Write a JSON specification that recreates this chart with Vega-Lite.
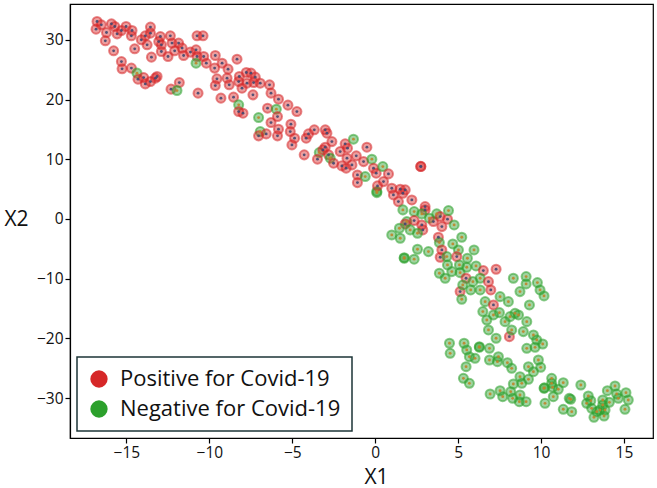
{
  "$schema": "https://vega.github.io/schema/vega-lite/v6.json",
  "width": 583,
  "height": 434,
  "autosize": {"type": "none"},
  "padding": {"left": 70, "top": 4, "right": 4, "bottom": 50},
  "background": "white",
  "config": {
    "font": "Open Sans",
    "view": {"stroke": "#000", "strokeWidth": 1.2},
    "axis": {"grid": false, "domainColor": "#000", "domainWidth": 1.2, "tickColor": "#000", "tickWidth": 1.2, "tickSize": 5, "labelFont": "Open Sans", "labelFontSize": 15.5, "labelColor": "#111", "titleFont": "Open Sans", "titleFontSize": 21, "titleFontWeight": "normal", "titleColor": "#111", "labelPadding": 2},
    "legend": {"orient": "bottom-left", "offset": 7, "strokeColor": "#1d3537", "fillColor": "white", "padding": 11, "labelFont": "Open Sans", "labelFontSize": 22, "labelColor": "#111", "labelLimit": 0, "symbolSize": 300, "symbolType": "circle", "labelOffset": 10, "rowPadding": 8, "symbolStrokeWidth": 0, "symbolOpacity": 1}
  },
  "datasets": {
    "pts": [
      {"x": -16.77, "y": 33.07, "s": "Positive for Covid-19"},
      {"x": -16.83, "y": 31.79, "s": "Positive for Covid-19"},
      {"x": -16.51, "y": 32.51, "s": "Positive for Covid-19"},
      {"x": -16.2, "y": 31.22, "s": "Positive for Covid-19"},
      {"x": -15.9, "y": 32.68, "s": "Positive for Covid-19"},
      {"x": -15.7, "y": 32.23, "s": "Positive for Covid-19"},
      {"x": -15.56, "y": 31.0, "s": "Positive for Covid-19"},
      {"x": -15.3, "y": 31.56, "s": "Positive for Covid-19"},
      {"x": -15.02, "y": 32.23, "s": "Positive for Covid-19"},
      {"x": -14.66, "y": 31.56, "s": "Positive for Covid-19"},
      {"x": -14.7, "y": 30.67, "s": "Positive for Covid-19"},
      {"x": -16.27, "y": 29.83, "s": "Positive for Covid-19"},
      {"x": -15.77, "y": 28.16, "s": "Positive for Covid-19"},
      {"x": -14.5, "y": 28.49, "s": "Positive for Covid-19"},
      {"x": -15.3, "y": 26.36, "s": "Positive for Covid-19"},
      {"x": -15.26, "y": 25.14, "s": "Positive for Covid-19"},
      {"x": -14.7, "y": 25.26, "s": "Positive for Covid-19"},
      {"x": -14.36, "y": 24.42, "s": "Negative for Covid-19"},
      {"x": -14.3, "y": 23.41, "s": "Positive for Covid-19"},
      {"x": -13.96, "y": 23.68, "s": "Positive for Covid-19"},
      {"x": -13.86, "y": 22.62, "s": "Positive for Covid-19"},
      {"x": -13.55, "y": 23.01, "s": "Positive for Covid-19"},
      {"x": -13.25, "y": 23.58, "s": "Positive for Covid-19"},
      {"x": -13.15, "y": 23.85, "s": "Positive for Covid-19"},
      {"x": -14.1, "y": 30.0, "s": "Positive for Covid-19"},
      {"x": -13.86, "y": 30.67, "s": "Positive for Covid-19"},
      {"x": -13.55, "y": 32.13, "s": "Positive for Covid-19"},
      {"x": -13.55, "y": 31.12, "s": "Positive for Covid-19"},
      {"x": -13.75, "y": 29.16, "s": "Positive for Covid-19"},
      {"x": -13.49, "y": 27.1, "s": "Positive for Covid-19"},
      {"x": -12.95, "y": 30.55, "s": "Positive for Covid-19"},
      {"x": -13.05, "y": 29.71, "s": "Positive for Covid-19"},
      {"x": -12.89, "y": 29.16, "s": "Positive for Covid-19"},
      {"x": -12.89, "y": 28.04, "s": "Positive for Covid-19"},
      {"x": -12.35, "y": 30.67, "s": "Positive for Covid-19"},
      {"x": -12.25, "y": 29.45, "s": "Positive for Covid-19"},
      {"x": -12.49, "y": 27.2, "s": "Positive for Covid-19"},
      {"x": -12.09, "y": 28.16, "s": "Positive for Covid-19"},
      {"x": -11.85, "y": 29.45, "s": "Positive for Covid-19"},
      {"x": -11.64, "y": 28.61, "s": "Positive for Covid-19"},
      {"x": -11.55, "y": 27.37, "s": "Positive for Covid-19"},
      {"x": -11.14, "y": 27.94, "s": "Positive for Covid-19"},
      {"x": -10.74, "y": 30.67, "s": "Positive for Covid-19"},
      {"x": -10.38, "y": 30.67, "s": "Positive for Covid-19"},
      {"x": -10.8, "y": 28.32, "s": "Positive for Covid-19"},
      {"x": -10.74, "y": 27.2, "s": "Positive for Covid-19"},
      {"x": -10.8, "y": 26.09, "s": "Negative for Covid-19"},
      {"x": -10.34, "y": 27.2, "s": "Positive for Covid-19"},
      {"x": -10.18, "y": 26.09, "s": "Positive for Covid-19"},
      {"x": -9.64, "y": 27.37, "s": "Positive for Covid-19"},
      {"x": -9.68, "y": 25.26, "s": "Positive for Covid-19"},
      {"x": -9.23, "y": 26.09, "s": "Positive for Covid-19"},
      {"x": -8.87, "y": 25.09, "s": "Positive for Covid-19"},
      {"x": -9.54, "y": 23.46, "s": "Positive for Covid-19"},
      {"x": -9.64, "y": 22.34, "s": "Positive for Covid-19"},
      {"x": -8.93, "y": 23.58, "s": "Positive for Covid-19"},
      {"x": -8.8, "y": 22.46, "s": "Positive for Covid-19"},
      {"x": -8.33, "y": 26.76, "s": "Positive for Covid-19"},
      {"x": -8.19, "y": 23.85, "s": "Positive for Covid-19"},
      {"x": -8.23, "y": 23.01, "s": "Positive for Covid-19"},
      {"x": -8.03, "y": 21.9, "s": "Positive for Covid-19"},
      {"x": -11.81, "y": 22.84, "s": "Positive for Covid-19"},
      {"x": -12.31, "y": 21.74, "s": "Positive for Covid-19"},
      {"x": -11.95, "y": 21.5, "s": "Negative for Covid-19"},
      {"x": -10.68, "y": 21.07, "s": "Positive for Covid-19"},
      {"x": -9.3, "y": 20.23, "s": "Positive for Covid-19"},
      {"x": -8.54, "y": 20.4, "s": "Positive for Covid-19"},
      {"x": -8.23, "y": 19.11, "s": "Negative for Covid-19"},
      {"x": -8.23, "y": 17.98, "s": "Positive for Covid-19"},
      {"x": -7.77, "y": 24.52, "s": "Positive for Covid-19"},
      {"x": -7.49, "y": 24.42, "s": "Positive for Covid-19"},
      {"x": -7.73, "y": 22.74, "s": "Positive for Covid-19"},
      {"x": -7.33, "y": 22.84, "s": "Positive for Covid-19"},
      {"x": -7.23, "y": 23.75, "s": "Positive for Covid-19"},
      {"x": -6.93, "y": 22.74, "s": "Positive for Covid-19"},
      {"x": -7.37, "y": 20.78, "s": "Positive for Covid-19"},
      {"x": -6.37, "y": 22.46, "s": "Positive for Covid-19"},
      {"x": -6.28, "y": 21.07, "s": "Positive for Covid-19"},
      {"x": -5.83, "y": 20.06, "s": "Positive for Covid-19"},
      {"x": -7.97, "y": 17.71, "s": "Positive for Covid-19"},
      {"x": -7.03, "y": 16.98, "s": "Negative for Covid-19"},
      {"x": -6.49, "y": 18.55, "s": "Positive for Covid-19"},
      {"x": -5.96, "y": 18.38, "s": "Negative for Covid-19"},
      {"x": -5.89, "y": 17.14, "s": "Positive for Covid-19"},
      {"x": -5.26, "y": 19.06, "s": "Positive for Covid-19"},
      {"x": -4.72, "y": 17.98, "s": "Positive for Covid-19"},
      {"x": -6.28, "y": 16.14, "s": "Positive for Covid-19"},
      {"x": -5.83, "y": 15.03, "s": "Positive for Covid-19"},
      {"x": -6.93, "y": 14.63, "s": "Negative for Covid-19"},
      {"x": -7.03, "y": 13.91, "s": "Positive for Covid-19"},
      {"x": -6.57, "y": 14.24, "s": "Positive for Covid-19"},
      {"x": -5.89, "y": 13.91, "s": "Positive for Covid-19"},
      {"x": -5.08, "y": 15.87, "s": "Positive for Covid-19"},
      {"x": -5.12, "y": 14.63, "s": "Positive for Covid-19"},
      {"x": -4.86, "y": 13.52, "s": "Positive for Covid-19"},
      {"x": -5.02, "y": 12.4, "s": "Positive for Covid-19"},
      {"x": -4.16, "y": 13.52, "s": "Positive for Covid-19"},
      {"x": -4.02, "y": 14.24, "s": "Positive for Covid-19"},
      {"x": -3.67, "y": 14.92, "s": "Positive for Covid-19"},
      {"x": -3.01, "y": 14.92, "s": "Positive for Covid-19"},
      {"x": -2.91, "y": 14.36, "s": "Positive for Covid-19"},
      {"x": -2.61, "y": 12.95, "s": "Positive for Covid-19"},
      {"x": -4.28, "y": 10.73, "s": "Positive for Covid-19"},
      {"x": -3.37, "y": 11.11, "s": "Negative for Covid-19"},
      {"x": -3.15, "y": 11.56, "s": "Positive for Covid-19"},
      {"x": -3.01, "y": 12.02, "s": "Positive for Covid-19"},
      {"x": -3.48, "y": 10.01, "s": "Positive for Covid-19"},
      {"x": -2.81, "y": 10.73, "s": "Positive for Covid-19"},
      {"x": -2.71, "y": 10.17, "s": "Negative for Covid-19"},
      {"x": -2.51, "y": 9.33, "s": "Positive for Covid-19"},
      {"x": -2.11, "y": 11.28, "s": "Positive for Covid-19"},
      {"x": -1.81, "y": 12.57, "s": "Positive for Covid-19"},
      {"x": -1.67, "y": 11.85, "s": "Positive for Covid-19"},
      {"x": -1.31, "y": 13.36, "s": "Negative for Covid-19"},
      {"x": -1.7, "y": 10.17, "s": "Positive for Covid-19"},
      {"x": -2.01, "y": 8.88, "s": "Positive for Covid-19"},
      {"x": -1.75, "y": 8.5, "s": "Positive for Covid-19"},
      {"x": -1.4, "y": 9.05, "s": "Positive for Covid-19"},
      {"x": -1.14, "y": 10.56, "s": "Positive for Covid-19"},
      {"x": -0.7, "y": 9.6, "s": "Positive for Covid-19"},
      {"x": -0.5, "y": 12.02, "s": "Positive for Covid-19"},
      {"x": -0.2, "y": 10.01, "s": "Negative for Covid-19"},
      {"x": -0.1, "y": 8.5, "s": "Positive for Covid-19"},
      {"x": -1.07, "y": 7.37, "s": "Positive for Covid-19"},
      {"x": -0.6, "y": 7.09, "s": "Negative for Covid-19"},
      {"x": -1.07, "y": 6.08, "s": "Positive for Covid-19"},
      {"x": 0.1, "y": 4.6, "s": "Negative for Covid-19"},
      {"x": 0.1, "y": 4.4, "s": "Negative for Covid-19"},
      {"x": 0.06, "y": 7.66, "s": "Positive for Covid-19"},
      {"x": 0.46, "y": 8.77, "s": "Negative for Covid-19"},
      {"x": 0.8, "y": 7.54, "s": "Positive for Covid-19"},
      {"x": 0.14, "y": 5.53, "s": "Positive for Covid-19"},
      {"x": 0.5, "y": 6.25, "s": "Positive for Covid-19"},
      {"x": 1.0, "y": 5.14, "s": "Positive for Covid-19"},
      {"x": 1.1, "y": 4.02, "s": "Positive for Covid-19"},
      {"x": 1.51, "y": 4.98, "s": "Positive for Covid-19"},
      {"x": 1.81, "y": 4.86, "s": "Positive for Covid-19"},
      {"x": 1.4, "y": 2.9, "s": "Positive for Covid-19"},
      {"x": 1.67, "y": 4.3, "s": "Positive for Covid-19"},
      {"x": 2.21, "y": 3.18, "s": "Positive for Covid-19"},
      {"x": 2.75, "y": 8.77, "s": "Positive for Covid-19"},
      {"x": 2.75, "y": 8.8, "s": "Positive for Covid-19"},
      {"x": 1.67, "y": 1.51, "s": "Negative for Covid-19"},
      {"x": 2.35, "y": 1.23, "s": "Negative for Covid-19"},
      {"x": 3.01, "y": 2.06, "s": "Positive for Covid-19"},
      {"x": 3.01, "y": 1.51, "s": "Positive for Covid-19"},
      {"x": 2.81, "y": 0.84, "s": "Negative for Covid-19"},
      {"x": 1.91, "y": -0.45, "s": "Negative for Covid-19"},
      {"x": 1.81, "y": -0.84, "s": "Positive for Covid-19"},
      {"x": 2.35, "y": -0.28, "s": "Positive for Covid-19"},
      {"x": 1.46, "y": -1.56, "s": "Negative for Covid-19"},
      {"x": 2.11, "y": -1.84, "s": "Negative for Covid-19"},
      {"x": 2.81, "y": -1.01, "s": "Positive for Covid-19"},
      {"x": 2.87, "y": -1.84, "s": "Positive for Covid-19"},
      {"x": 1.0, "y": -2.68, "s": "Negative for Covid-19"},
      {"x": 1.51, "y": -3.24, "s": "Negative for Covid-19"},
      {"x": 2.55, "y": -2.4, "s": "Negative for Covid-19"},
      {"x": 3.27, "y": 0.12, "s": "Negative for Covid-19"},
      {"x": 3.51, "y": -0.45, "s": "Positive for Covid-19"},
      {"x": 3.71, "y": 0.84, "s": "Negative for Covid-19"},
      {"x": 3.92, "y": 0.39, "s": "Positive for Covid-19"},
      {"x": 4.02, "y": -1.29, "s": "Positive for Covid-19"},
      {"x": 4.36, "y": -0.05, "s": "Positive for Covid-19"},
      {"x": 4.42, "y": 1.4, "s": "Negative for Covid-19"},
      {"x": 4.76, "y": -1.01, "s": "Negative for Covid-19"},
      {"x": 3.81, "y": -3.07, "s": "Positive for Covid-19"},
      {"x": 3.87, "y": -3.97, "s": "Negative for Covid-19"},
      {"x": 4.02, "y": -5.2, "s": "Positive for Covid-19"},
      {"x": 3.92, "y": -6.42, "s": "Positive for Covid-19"},
      {"x": 4.32, "y": -6.31, "s": "Negative for Covid-19"},
      {"x": 4.68, "y": -4.19, "s": "Negative for Covid-19"},
      {"x": 5.02, "y": -5.2, "s": "Negative for Covid-19"},
      {"x": 4.92, "y": -6.31, "s": "Positive for Covid-19"},
      {"x": 5.22, "y": -3.07, "s": "Negative for Covid-19"},
      {"x": 5.96, "y": -5.2, "s": "Negative for Covid-19"},
      {"x": 5.56, "y": -6.59, "s": "Negative for Covid-19"},
      {"x": 6.08, "y": -7.88, "s": "Negative for Covid-19"},
      {"x": 6.52, "y": -8.66, "s": "Positive for Covid-19"},
      {"x": 7.29, "y": -8.43, "s": "Positive for Covid-19"},
      {"x": 2.55, "y": -5.08, "s": "Negative for Covid-19"},
      {"x": 3.21, "y": -5.48, "s": "Negative for Covid-19"},
      {"x": 2.35, "y": -6.75, "s": "Negative for Covid-19"},
      {"x": 1.75, "y": -6.59, "s": "Negative for Covid-19"},
      {"x": 1.75, "y": -6.5, "s": "Negative for Covid-19"},
      {"x": 4.36, "y": -7.71, "s": "Negative for Covid-19"},
      {"x": 5.08, "y": -7.71, "s": "Negative for Covid-19"},
      {"x": 3.87, "y": -9.1, "s": "Negative for Covid-19"},
      {"x": 4.22, "y": -9.94, "s": "Negative for Covid-19"},
      {"x": 4.62, "y": -8.83, "s": "Negative for Covid-19"},
      {"x": 5.12, "y": -9.0, "s": "Negative for Covid-19"},
      {"x": 5.52, "y": -8.1, "s": "Negative for Covid-19"},
      {"x": 5.48, "y": -9.94, "s": "Positive for Covid-19"},
      {"x": 5.89, "y": -10.51, "s": "Negative for Covid-19"},
      {"x": 6.33, "y": -9.94, "s": "Negative for Covid-19"},
      {"x": 6.83, "y": -10.51, "s": "Positive for Covid-19"},
      {"x": 6.97, "y": -11.9, "s": "Positive for Covid-19"},
      {"x": 5.12, "y": -12.18, "s": "Positive for Covid-19"},
      {"x": 5.22, "y": -13.46, "s": "Negative for Covid-19"},
      {"x": 5.28, "y": -11.06, "s": "Negative for Covid-19"},
      {"x": 5.76, "y": -11.9, "s": "Negative for Covid-19"},
      {"x": 6.33, "y": -11.9, "s": "Negative for Covid-19"},
      {"x": 7.53, "y": -13.02, "s": "Negative for Covid-19"},
      {"x": 6.63, "y": -13.86, "s": "Negative for Covid-19"},
      {"x": 7.13, "y": -14.41, "s": "Positive for Covid-19"},
      {"x": 8.03, "y": -13.86, "s": "Negative for Covid-19"},
      {"x": 8.33, "y": -9.94, "s": "Negative for Covid-19"},
      {"x": 8.73, "y": -12.18, "s": "Negative for Covid-19"},
      {"x": 9.1, "y": -9.66, "s": "Negative for Covid-19"},
      {"x": 9.1, "y": -10.89, "s": "Negative for Covid-19"},
      {"x": 9.78, "y": -10.67, "s": "Negative for Covid-19"},
      {"x": 9.94, "y": -11.9, "s": "Negative for Covid-19"},
      {"x": 10.18, "y": -12.9, "s": "Negative for Covid-19"},
      {"x": 9.3, "y": -14.41, "s": "Negative for Covid-19"},
      {"x": 6.49, "y": -15.53, "s": "Negative for Covid-19"},
      {"x": 6.73, "y": -16.93, "s": "Negative for Covid-19"},
      {"x": 7.13, "y": -16.09, "s": "Negative for Covid-19"},
      {"x": 7.49, "y": -15.7, "s": "Negative for Covid-19"},
      {"x": 7.83, "y": -17.21, "s": "Negative for Covid-19"},
      {"x": 8.13, "y": -16.37, "s": "Negative for Covid-19"},
      {"x": 8.43, "y": -15.81, "s": "Negative for Covid-19"},
      {"x": 8.64, "y": -16.09, "s": "Negative for Covid-19"},
      {"x": 6.83, "y": -18.6, "s": "Negative for Covid-19"},
      {"x": 7.29, "y": -19.99, "s": "Negative for Covid-19"},
      {"x": 8.09, "y": -19.72, "s": "Positive for Covid-19"},
      {"x": 8.23, "y": -18.6, "s": "Negative for Covid-19"},
      {"x": 8.93, "y": -18.88, "s": "Negative for Covid-19"},
      {"x": 9.14, "y": -17.21, "s": "Negative for Covid-19"},
      {"x": 9.54, "y": -19.44, "s": "Negative for Covid-19"},
      {"x": 9.74, "y": -20.28, "s": "Negative for Covid-19"},
      {"x": 10.1, "y": -20.95, "s": "Negative for Covid-19"},
      {"x": 9.64, "y": -21.51, "s": "Negative for Covid-19"},
      {"x": 9.14, "y": -21.68, "s": "Negative for Covid-19"},
      {"x": 9.84, "y": -23.63, "s": "Negative for Covid-19"},
      {"x": 9.98, "y": -24.86, "s": "Negative for Covid-19"},
      {"x": 9.54, "y": -25.59, "s": "Negative for Covid-19"},
      {"x": 9.24, "y": -24.75, "s": "Negative for Covid-19"},
      {"x": 4.48, "y": -20.83, "s": "Negative for Covid-19"},
      {"x": 4.52, "y": -22.51, "s": "Negative for Covid-19"},
      {"x": 5.36, "y": -20.83, "s": "Negative for Covid-19"},
      {"x": 5.52, "y": -21.95, "s": "Negative for Covid-19"},
      {"x": 5.68, "y": -23.08, "s": "Negative for Covid-19"},
      {"x": 6.28, "y": -21.51, "s": "Negative for Covid-19"},
      {"x": 6.28, "y": -21.4, "s": "Negative for Covid-19"},
      {"x": 6.02, "y": -23.35, "s": "Negative for Covid-19"},
      {"x": 6.89, "y": -21.68, "s": "Negative for Covid-19"},
      {"x": 7.43, "y": -23.08, "s": "Negative for Covid-19"},
      {"x": 7.37, "y": -23.91, "s": "Negative for Covid-19"},
      {"x": 6.89, "y": -23.63, "s": "Negative for Covid-19"},
      {"x": 7.97, "y": -24.08, "s": "Negative for Covid-19"},
      {"x": 8.23, "y": -25.03, "s": "Negative for Covid-19"},
      {"x": 8.73, "y": -26.43, "s": "Negative for Covid-19"},
      {"x": 8.84, "y": -27.54, "s": "Negative for Covid-19"},
      {"x": 8.33, "y": -27.65, "s": "Negative for Covid-19"},
      {"x": 9.24, "y": -26.87, "s": "Negative for Covid-19"},
      {"x": 5.48, "y": -24.75, "s": "Negative for Covid-19"},
      {"x": 5.32, "y": -26.7, "s": "Negative for Covid-19"},
      {"x": 5.68, "y": -27.54, "s": "Negative for Covid-19"},
      {"x": 7.53, "y": -28.78, "s": "Negative for Covid-19"},
      {"x": 6.93, "y": -29.33, "s": "Negative for Covid-19"},
      {"x": 7.69, "y": -29.78, "s": "Negative for Covid-19"},
      {"x": 8.17, "y": -28.94, "s": "Negative for Covid-19"},
      {"x": 8.29, "y": -30.05, "s": "Negative for Covid-19"},
      {"x": 8.69, "y": -30.62, "s": "Negative for Covid-19"},
      {"x": 9.1, "y": -30.62, "s": "Negative for Covid-19"},
      {"x": 8.73, "y": -29.5, "s": "Negative for Covid-19"},
      {"x": 10.18, "y": -28.38, "s": "Negative for Covid-19"},
      {"x": 10.2, "y": -28.3, "s": "Negative for Covid-19"},
      {"x": 10.7, "y": -28.21, "s": "Negative for Covid-19"},
      {"x": 11.34, "y": -27.43, "s": "Negative for Covid-19"},
      {"x": 10.74, "y": -29.78, "s": "Negative for Covid-19"},
      {"x": 10.24, "y": -30.89, "s": "Negative for Covid-19"},
      {"x": 11.79, "y": -30.22, "s": "Negative for Covid-19"},
      {"x": 12.4, "y": -27.82, "s": "Negative for Covid-19"},
      {"x": 10.64, "y": -26.7, "s": "Negative for Covid-19"},
      {"x": 10.64, "y": -27.54, "s": "Negative for Covid-19"},
      {"x": 11.04, "y": -28.54, "s": "Negative for Covid-19"},
      {"x": 11.7, "y": -30.05, "s": "Negative for Covid-19"},
      {"x": 11.34, "y": -31.89, "s": "Negative for Covid-19"},
      {"x": 11.85, "y": -32.29, "s": "Negative for Covid-19"},
      {"x": 12.85, "y": -29.66, "s": "Negative for Covid-19"},
      {"x": 12.75, "y": -30.89, "s": "Negative for Covid-19"},
      {"x": 13.0, "y": -30.45, "s": "Negative for Covid-19"},
      {"x": 13.05, "y": -31.73, "s": "Negative for Covid-19"},
      {"x": 13.19, "y": -33.23, "s": "Negative for Covid-19"},
      {"x": 13.36, "y": -32.29, "s": "Negative for Covid-19"},
      {"x": 13.72, "y": -30.33, "s": "Negative for Covid-19"},
      {"x": 13.72, "y": -31.17, "s": "Negative for Covid-19"},
      {"x": 13.55, "y": -32.01, "s": "Negative for Covid-19"},
      {"x": 13.86, "y": -32.01, "s": "Negative for Covid-19"},
      {"x": 13.8, "y": -33.01, "s": "Negative for Covid-19"},
      {"x": 14.12, "y": -30.72, "s": "Negative for Covid-19"},
      {"x": 14.0, "y": -28.77, "s": "Negative for Covid-19"},
      {"x": 14.46, "y": -27.99, "s": "Negative for Covid-19"},
      {"x": 14.56, "y": -29.33, "s": "Negative for Covid-19"},
      {"x": 14.66, "y": -30.05, "s": "Negative for Covid-19"},
      {"x": 15.12, "y": -29.11, "s": "Negative for Covid-19"},
      {"x": 15.26, "y": -30.33, "s": "Negative for Covid-19"},
      {"x": 15.06, "y": -31.89, "s": "Negative for Covid-19"}
    ]
  },
  "data": {"name": "pts"},
  "encoding": {
    "x": {"field": "x", "type": "quantitative", "title": "X1", "scale": {"domain": [-18.4, 16.75], "nice": false, "zero": false}, "axis": {"values": [-15, -10, -5, 0, 5, 10, 15], "titleX": 306, "titleY": 28, "titleBaseline": "top"}},
    "y": {"field": "y", "type": "quantitative", "title": "X2", "scale": {"domain": [-36.7, 36.0], "nice": false, "zero": false}, "axis": {"values": [-30, -20, -10, 0, 10, 20, 30], "titleAngle": 0, "titleX": -54, "titleY": 215, "titleAlign": "center", "titleBaseline": "middle"}}
  },
  "layer": [
    {
      "mark": {"type": "circle", "size": 82, "fillOpacity": 0.45, "strokeOpacity": 0.55, "strokeWidth": 2},
      "encoding": {
        "color": {"field": "s", "type": "nominal", "scale": {"domain": ["Positive for Covid-19", "Negative for Covid-19"], "range": ["#d62728", "#2ca02c"]}, "legend": {"title": null, "encode": {"symbols": {"update": {"fillOpacity": {"value": 1}, "opacity": {"value": 1}, "strokeWidth": {"value": 0}}}, "legend": {"update": {"strokeWidth": {"value": 1.5}}}}}},
        "stroke": {"field": "s", "type": "nominal", "scale": {"domain": ["Positive for Covid-19", "Negative for Covid-19"], "range": ["#d62728", "#2ca02c"]}, "legend": null}
      }
    },
    {
      "mark": {"type": "circle", "size": 8, "opacity": 0.9},
      "encoding": {
        "color": {"field": "s", "type": "nominal", "scale": {"domain": ["Positive for Covid-19", "Negative for Covid-19"], "range": ["#404870", "#c0842a"]}, "legend": null}
      }
    }
  ],
  "resolve": {"scale": {"color": "independent"}}
}
